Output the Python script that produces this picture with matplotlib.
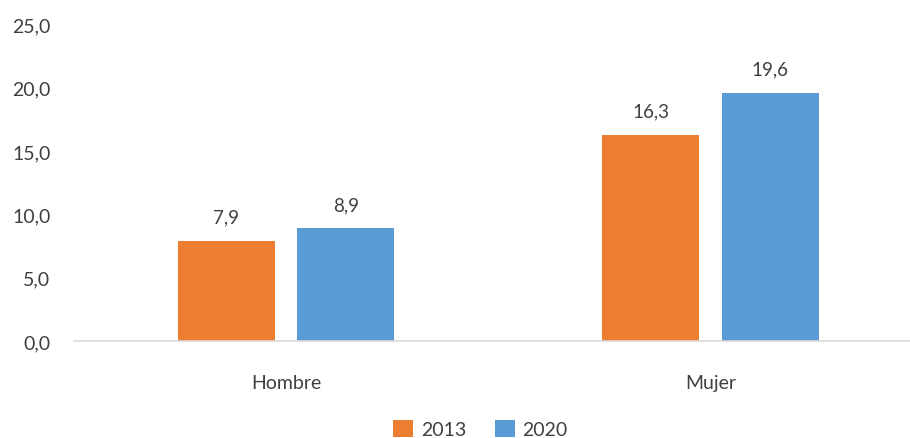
import numpy as np
import matplotlib
matplotlib.use("Agg")
import matplotlib.pyplot as plt

# data
categories = ["Hombre", "Mujer"]
series_names = ["2013", "2020"]
vals_2013 = [7.9, 16.3]
vals_2020 = [8.9, 19.6]

plt.rcParams['font.family'] = ['Lato', 'DejaVu Sans']
TXT = "#404040"
colors = ["#ED7D31", "#5B9BD5"]

fig = plt.figure(figsize=(9.10, 4.39), dpi=100)
ax = fig.add_axes([74/910, 97/439, 836/910, 316.5/439])

x = np.arange(len(categories))
w = 0.228
off = 0.141
for vals, name, c, d in zip([vals_2013, vals_2020], series_names, colors, [-off, off]):
    bars = ax.bar(x + d, vals, width=w, color=c, label=name)
    for b, v in zip(bars, vals):
        ax.annotate(f"{v:.1f}".replace(".", ","), (b.get_x() + b.get_width()/2, v),
                    xytext=(0, 11), textcoords="offset points", ha="center", va="bottom",
                    fontsize=13.5, color=TXT)

ax.set_xlim(-0.4994, 1.47)
ax.set_ylim(0, 25)
ax.set_yticks(np.arange(0, 26, 5))
ax.set_yticklabels([f"{t:.1f}".replace(".", ",") for t in np.arange(0, 26, 5)])
ax.set_xticks(x)
ax.set_xticklabels(categories)
ax.tick_params(axis="both", length=0, labelsize=14, colors=TXT)
ax.tick_params(axis="x", pad=24)
ax.tick_params(axis="y", pad=17)
for s in ["top", "right", "left"]:
    ax.spines[s].set_visible(False)
ax.spines["bottom"].set_color("#D9D9D9")
ax.spines["bottom"].set_linewidth(1.2)

fig.legend(loc="center", bbox_to_anchor=(0.528, 9/439), ncol=2, frameon=False,
           fontsize=14, handlelength=1.0, handleheight=1.0, columnspacing=1.5,
           handletextpad=0.4, labelcolor=TXT)

fig.savefig("out.png", dpi=100)
